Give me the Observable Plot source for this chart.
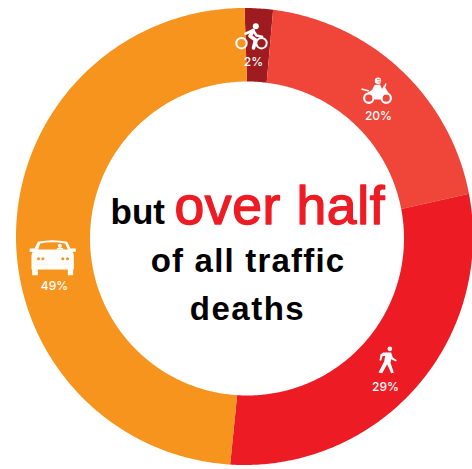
<!DOCTYPE html>
<html>
<head>
<meta charset="utf-8">
<script src="https://cdn.jsdelivr.net/npm/d3@7"></script>
<script src="https://cdn.jsdelivr.net/npm/@observablehq/plot@0.6"></script>
<style>html,body{margin:0;padding:0;background:#fff}svg{display:block}</style>
</head>
<body>
<div id="chart"></div>
<script>
const categories = ["Bicyclists", "Motorcyclists", "Pedestrians", "Car occupants"];
const shares = [2, 20, 29, 49];
const colors = ["#9E1B20", "#F04539", "#ED1C24", "#F7941E"];
const percentLabels = ["2%", "20%", "29%", "49%"];

const W = 472, H = 469;
const outer = {cx: 244.5, cy: 236.5, r: 228.5};
const inner = {cx: 247, cy: 238.5, r: 157};

const band = [];
let cum = 0;
categories.forEach((c, i) => {
  const start = cum / 100 * 2 * Math.PI;
  cum += shares[i];
  const end = cum / 100 * 2 * Math.PI;
  const n = Math.max(4, Math.ceil((end - start) / 0.01));
  for (let k = 0; k <= n; ++k) {
    const a = start + (end - start) * k / n;
    band.push({
      category: c, color: colors[i],
      x1: inner.cx + inner.r * Math.sin(a), y1: inner.cy - inner.r * Math.cos(a),
      x2: outer.cx + outer.r * Math.sin(a), y2: outer.cy - outer.r * Math.cos(a)
    });
  }
});

const svg = (vb, body) => "data:image/svg+xml," + encodeURIComponent(
  `<svg xmlns="http://www.w3.org/2000/svg" viewBox="${vb}">${body}</svg>`);

const bikeIcon = svg("232 20 40 32", `
  <g fill="none" stroke="#fff" stroke-width="2">
    <circle cx="241" cy="42.7" r="5.2"/><circle cx="261" cy="42.7" r="5.2"/>
  </g>
  <circle cx="255.3" cy="25.8" r="3" fill="#fff"/>
  <path d="M245 33.2 L252.5 29.7 L256 35 L261.5 36.2" fill="none" stroke="#fff" stroke-width="2.6" stroke-linejoin="round" stroke-linecap="round"/>
  <path d="M252.8 30 L249.5 35.5 L255 39.5 L253 47.5" fill="none" stroke="#fff" stroke-width="3.6" stroke-linejoin="round" stroke-linecap="round"/>`);

const motoIcon = svg("360 76 36 28", `
  <g fill="none" stroke="#fff" stroke-width="2.2">
    <circle cx="368.3" cy="97.7" r="4.7"/><circle cx="385.7" cy="97.7" r="4.7"/>
  </g>
  <circle cx="377.5" cy="80.3" r="3.2" fill="#fff"/>
  <path d="M376.5 79.2 h3.6 M377 81.4 h3.6" stroke="#F04539" stroke-width="0.7"/>
  <path d="M374 84.5 L379.5 84 L381.5 88.5 L383.5 85 L386.5 90 L389 93.5 L383.5 94 L381 99 L374 99 L372 94 L366.5 92.5 L371.5 89.5 Z" fill="#fff"/>
  <path d="M361 88.5 L368.5 90.5 M383.5 88 L385.5 83" fill="none" stroke="#fff" stroke-width="1.5"/>`);

const carIcon = svg("50 55 152 114", `
  <path d="M58 85 H72 L82 65 Q126 56 170 65 L180 85 H196 V94 L186 96 Q190 100 190 106 V148 H188 V165 H172 V148 H82 V165 H65 V148 H63 V106 Q63 100 67 96 L57 94 Z" fill="#fff"/>
  <path d="M83 88 L89 70 Q126 63 164 70 L172 88 Z" fill="#F7941E"/>
  <circle cx="148" cy="77" r="6" fill="#fff"/>
  <path d="M137 88 Q139 82 148 82 Q158 82 161 88 Z" fill="#fff"/>
  <g fill="#F7941E"><circle cx="84" cy="116" r="4.5"/><circle cx="97" cy="116" r="4.5"/><circle cx="157" cy="116" r="4.5"/><circle cx="171" cy="116" r="4.5"/></g>
  <path d="M72 134 H180" stroke="#FDEBD3" stroke-width="1.5"/>`);

const walkIcon = svg("80 522 62 90", `
  <circle cx="118" cy="534" r="7" fill="#fff"/>
  <path d="M98 545 L122 545 L127 560 L139 568 L136 572 L122 565 L120 576 L130 606 L122 607 L110 580 L95 607 L84 605 L101 572 L104 555 L96 556 L92 570 L87 568 L90 551 Z" fill="#fff"/>`);

const icons = [
  {src: bikeIcon, x: 252, y: 36, w: 40, h: 32},
  {src: motoIcon, x: 378, y: 90, w: 36, h: 28},
  {src: walkIcon, x: 387, y: 359.3, w: 20.7, h: 30},
  {src: carIcon, x: 52, y: 257, w: 50.7, h: 38}
];
const labelPoints = [
  {t: percentLabels[0], x: 253, y: 62},
  {t: percentLabels[1], x: 378, y: 116},
  {t: percentLabels[2], x: 385, y: 387},
  {t: percentLabels[3], x: 54, y: 286}
];
const headline = [
  {t: "but", x: 110, y: 223.5, size: 35, fill: "#000", anchor: "start", weight: 700, spacing: 0, stroke: 0},
  {t: "over half", x: 174, y: 223.5, size: 53.5, fill: "#ED1C24", anchor: "start", weight: 400, spacing: 0.6, stroke: 1.4},
  {t: "of all traffic", x: 247.5, y: 271, size: 33, fill: "#000", anchor: "middle", weight: 700, spacing: 1.2, stroke: 0},
  {t: "deaths", x: 247, y: 319, size: 33, fill: "#000", anchor: "middle", weight: 700, spacing: 1.5, stroke: 0}
];

const headText = d => Plot.text([d], {
  x: "x", y: "y", text: "t", fill: "fill", stroke: d.stroke ? d.fill : "none", strokeWidth: d.stroke,
  fontSize: d.size, fontWeight: d.weight, textAnchor: d.anchor,
  lineAnchor: "bottom", fontFamily: "Liberation Sans",
  render(index, scales, values, dimensions, context, next) {
    const g = next(index, scales, values, dimensions, context);
    g.setAttribute("letter-spacing", d.spacing);
    return g;
  }
});

const plot = Plot.plot({
  width: W, height: H, margin: 0,
  x: {domain: [0, W], range: [0, W], axis: null},
  y: {domain: [0, H], range: [0, H], axis: null},
  style: {background: "#fff"},
  marks: [
    Plot.area(band, {x1: "x1", y1: "y1", x2: "x2", y2: "y2", z: "category", fill: "color"}),
    ...icons.map(d => Plot.image([d], {x: "x", y: "y", src: "src", width: d.w, height: d.h})),
    Plot.text(labelPoints, {x: "x", y: "y", text: "t", fill: "#fff", fontSize: 12, fontWeight: 500, fontFamily: "Inter"}),
    ...headline.map(headText)
  ]
});
document.getElementById("chart").append(plot);
</script>
</body>
</html>
